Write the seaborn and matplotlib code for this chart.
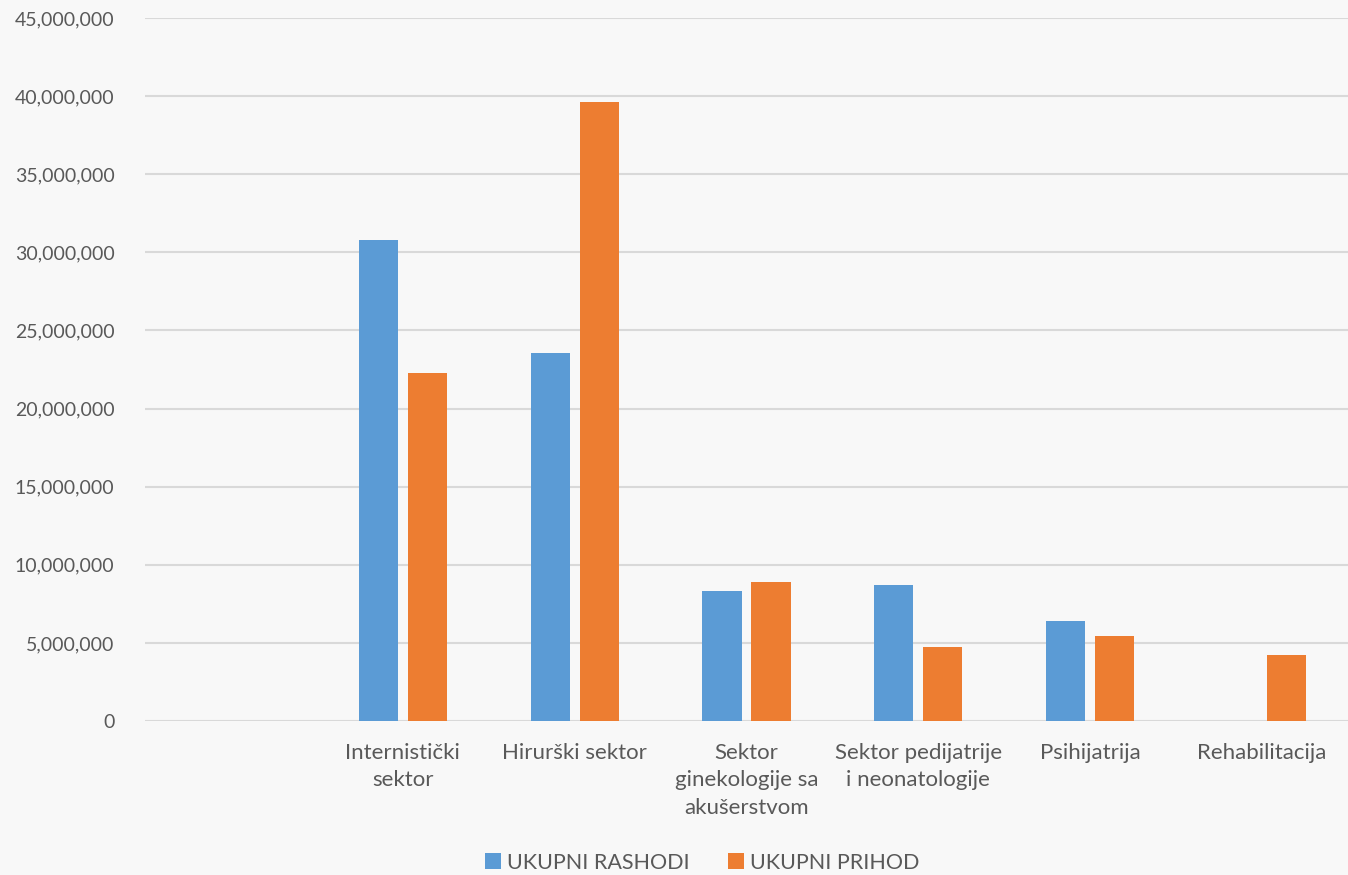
import pandas as pd
import numpy as np
import matplotlib.pyplot as plt
import seaborn as sns
from matplotlib.ticker import FuncFormatter

# data
sektori = ["", "Internistički\nsektor", "Hirurški sektor", "Sektor\nginekologije sa\nakušerstvom",
           "Sektor pedijatrije\ni neonatologije", "Psihijatrija", "Rehabilitacija"]
rashodi = [np.nan, 30790000, 23560000, 8320000, 8710000, 6400000, 0]
prihod = [np.nan, 22280000, 39630000, 8900000, 4740000, 5440000, 4230000]
serije = ["UKUPNI RASHODI", "UKUPNI PRIHOD"]

df = pd.DataFrame({"sektor": sektori * 2,
                   "serija": [serije[0]] * len(sektori) + [serije[1]] * len(sektori),
                   "iznos": rashodi + prihod})

sns.set_style("white")
plt.rcParams['font.family'] = ['Lato', 'DejaVu Sans']

fig = plt.figure(figsize=(13.48, 8.75), dpi=100)
fig.patch.set_facecolor('#f8f8f8')
ax = fig.add_axes([145 / 1348, 1 - 721 / 875, 1 - 145 / 1348, (721 - 18) / 875])
ax.set_facecolor('none')

sns.barplot(data=df, x="sektor", y="iznos", hue="serija", order=sektori, hue_order=serije,
            palette=["#5B9BD5", "#ED7D31"], saturation=1, width=0.57, gap=0.2, linewidth=0,
            errorbar=None, ax=ax, zorder=3)

ax.set_ylim(0, 45000000)
ax.set_yticks(np.arange(0, 45000001, 5000000))
ax.yaxis.set_major_formatter(FuncFormatter(lambda v, p: f"{int(v):,}"))
ax.grid(axis='y', color='#d9d9d9', linewidth=1.5, zorder=0)
ax.set_axisbelow(True)
for s in ax.spines.values():
    s.set_visible(False)
ax.tick_params(axis='both', length=0, colors='#595959')
ax.tick_params(axis='y', pad=22, labelsize=14)
ax.tick_params(axis='x', pad=16, labelsize=16)
for t in ax.get_xticklabels():
    t.set_linespacing(1.45)
ax.set_xlabel("")
ax.set_ylabel("")

ax.legend(loc='lower center', bbox_to_anchor=(0.463, -0.228), ncol=2, frameon=False,
          fontsize=15.5, labelcolor='#595959', handlelength=0.75, handleheight=0.75,
          handletextpad=0.25, columnspacing=1.8, borderaxespad=0)

fig.savefig("out.png", dpi=100, facecolor=fig.get_facecolor())
